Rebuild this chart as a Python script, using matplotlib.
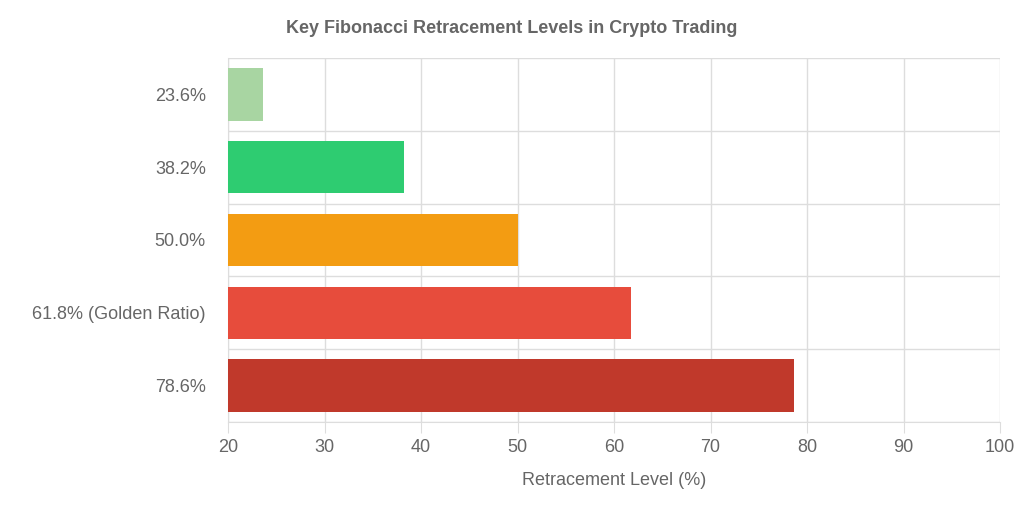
import matplotlib
matplotlib.use("Agg")
import matplotlib.pyplot as plt
import numpy as np

categories = ["23.6%", "38.2%", "50.0%", "61.8% (Golden Ratio)", "78.6%"]
values = [23.6, 38.2, 50.0, 61.8, 78.6]
colors = ["#a8d5a2", "#2ecc71", "#f39c12", "#e74c3c", "#c0392b"]

plt.rcParams['font.family'] = ['Liberation Sans', 'DejaVu Sans']
fig = plt.figure(figsize=(10.24, 5.12), dpi=100)
ax = fig.add_axes([0.2227, 0.1758, 0.754, 0.711])
y = np.arange(len(categories))
ax.barh(y, [v - 20 for v in values], left=20, height=0.72, color=colors, zorder=3)
ax.set_xlim(20, 100)
ax.set_ylim(len(categories) - 0.5, -0.5)
ax.set_yticks(y)
ax.set_yticklabels(categories)
ax.set_yticks(np.arange(-0.5, len(categories), 1), minor=True)
ax.set_xticks(np.arange(20, 101, 10))
ax.grid(True, axis='x', color='#dddddd', lw=1, zorder=0)
ax.grid(True, axis='y', which='minor', color='#dddddd', lw=1, zorder=0)
ax.tick_params(axis='y', which='both', length=0, labelsize=13, labelcolor='#666666', pad=16)
ax.tick_params(axis='x', length=8, color='#dddddd', labelsize=13, labelcolor='#666666', pad=4)
for s in ['top', 'right']:
    ax.spines[s].set_visible(False)
for s in ['left', 'bottom']:
    ax.spines[s].set_color('#dddddd')
ax.set_xlabel("Retracement Level (%)", fontsize=13, color='#666666', labelpad=12)
fig.text(0.5, 0.945, "Key Fibonacci Retracement Levels in Crypto Trading", ha='center', va='center',
         fontsize=13, fontweight='bold', color='#666666')
fig.savefig("out.png", dpi=100)
